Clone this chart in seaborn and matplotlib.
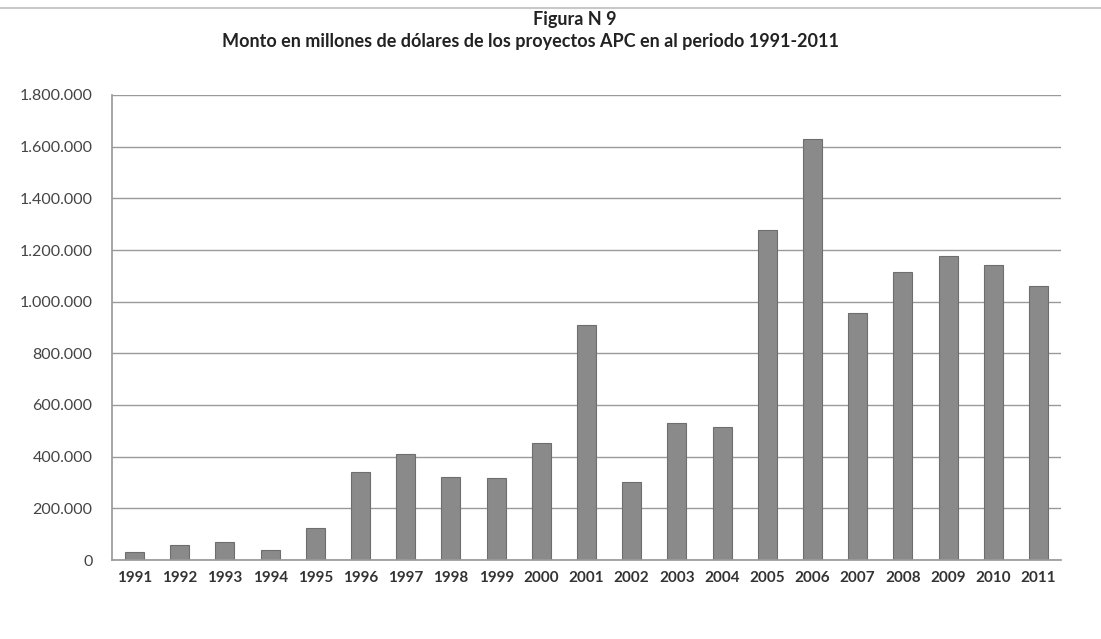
import matplotlib
matplotlib.use("Agg")
import matplotlib.pyplot as plt
from matplotlib.ticker import FuncFormatter
import seaborn as sns
import pandas as pd

years = [str(y) for y in range(1991, 2012)]
montos = [
    31000, 60000, 70000, 39000, 124000, 341000, 411000, 322000, 318000, 453000,
    911000, 302000, 531000, 516000, 1279000, 1628000, 957000, 1116000, 1178000,
    1143000, 1062000,
]
yticks = list(range(0, 1800001, 200000))

titulo_1 = "Figura N 9"
titulo_2 = "Monto en millones de dólares de los proyectos APC en al periodo 1991-2011"

df = pd.DataFrame({"anio": years, "monto": montos})

sns.set_theme(style="white")
plt.rcParams["font.family"] = ["Lato", "DejaVu Sans"]

fig = plt.figure(figsize=(11.01, 6.39), dpi=100)
ax = fig.add_axes([112 / 1101, 1 - 560 / 639, (1061 - 112) / 1101, (560 - 95) / 639])

sns.barplot(
    data=df,
    x="anio",
    y="monto",
    color="#8a8a8a",
    edgecolor="#6e6e6e",
    linewidth=0.8,
    width=0.42,
    saturation=1,
    ax=ax,
)

ax.set_ylim(0, 1800000)
ax.set_yticks(yticks)
ax.yaxis.set_major_formatter(
    FuncFormatter(lambda v, p: "0" if v == 0 else f"{int(v):,}".replace(",", "."))
)
ax.yaxis.grid(True, color="#9a9a9a", linewidth=1.0)
ax.set_axisbelow(True)

for side in ["top", "right"]:
    ax.spines[side].set_visible(False)
ax.spines["left"].set_color("#9a9a9a")
ax.spines["bottom"].set_color("#9a9a9a")

ax.tick_params(axis="y", labelsize=11.5, labelcolor="#444444", pad=14, length=0)
ax.tick_params(axis="x", labelsize=11, labelcolor="#333333", pad=8, length=0)
for lbl in ax.get_xticklabels():
    lbl.set_fontweight("bold")

ax.set_xlabel("")
ax.set_ylabel("")

fig.text(575 / 1101, 1 - 20 / 639, titulo_1, ha="center", va="center", fontsize=13,
         fontweight="bold", color="#222222")
fig.text(530 / 1101, 1 - 42 / 639, titulo_2, ha="center", va="center", fontsize=13,
         fontweight="bold", color="#222222")

# borde superior del escaneo
fig.add_artist(plt.Line2D([0.0, 1.0], [0.988, 0.988], color="#c8c8c8", linewidth=1.5))

fig.savefig("out.png", dpi=100)
